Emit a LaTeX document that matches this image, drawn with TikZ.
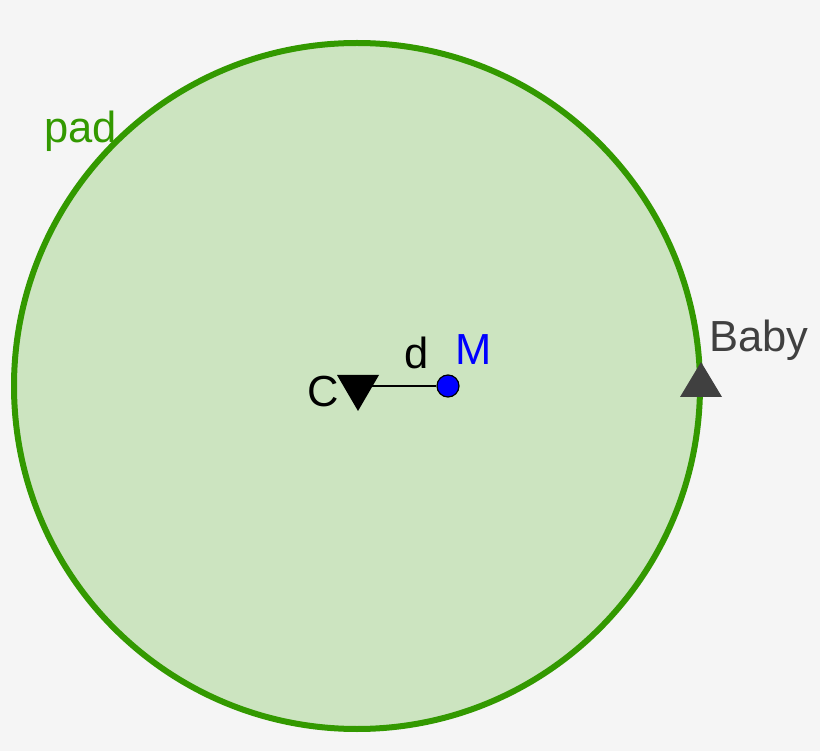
\documentclass[tikz,border=0pt]{standalone}
\usepackage{fontspec}
\setmainfont{Liberation Sans}
\definecolor{bg}{HTML}{F5F5F5}
\definecolor{padgreen}{HTML}{339900}
\definecolor{padfill}{HTML}{CCE4C0}
\definecolor{babygray}{HTML}{404040}
\definecolor{mblue}{HTML}{0000FF}
\tikzset{
  lbl/.style={anchor=base west, inner sep=0pt, font=\fontsize{43.5}{50}\selectfont},
}
\begin{document}
\begin{tikzpicture}[x=1pt,y=-1pt]
\fill[bg] (0,0) rectangle (820,751);
\useasboundingbox (0,0) rectangle (820,751);
% pad
\draw[padgreen, line width=6pt, fill=padfill] (357,386) circle (343);
\node[lbl, text=padgreen] (padlbl) at (44,143) {pad};
% Baby
\fill[babygray] (701,362) -- (680,397) -- (722,397) -- cycle;
\node[lbl, text=babygray] (babylbl) at (709,352) {Baby};
% C and M
\coordinate (C) at (358,386);
\node[circle, draw=black, line width=1.2pt, fill=mblue, minimum size=22pt, inner sep=0pt] (M) at (448,386) {};
\draw[black, line width=2pt] (C) -- (M);
\fill[black] (337,375) -- (379,375) -- (358,411) -- cycle;
\node[lbl, text=black] (Clbl) at (307,407) {C};
\node[lbl, text=black] (dlbl) at (404,369) {d};
\node[lbl, text=mblue] (Mlbl) at (455,365) {M};
\end{tikzpicture}
\end{document}
